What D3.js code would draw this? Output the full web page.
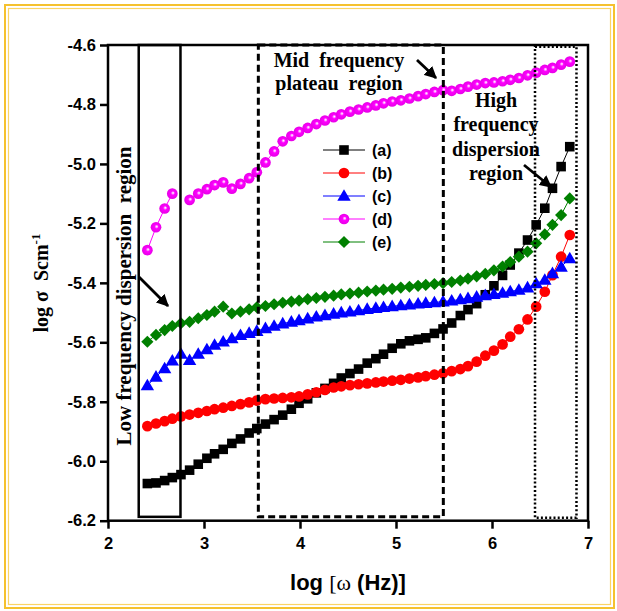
<!DOCTYPE html>
<html>
<head>
<meta charset="utf-8">
<script src="https://cdn.jsdelivr.net/npm/d3@7"></script>
<style>
  body { margin: 0; background: #fff; }
  svg { display: block; }
</style>
</head>
<body>
<script>
  "use strict";

  // log of angular frequency (x values shared by all series)
  var logFreq = [2.41, 2.50, 2.59, 2.67, 2.76, 2.85, 2.94, 3.03, 3.11, 3.20,
                 3.29, 3.38, 3.47, 3.55, 3.64, 3.73, 3.82, 3.91, 3.99, 4.08,
                 4.17, 4.26, 4.35, 4.43, 4.52, 4.61, 4.70, 4.79, 4.87, 4.96,
                 5.05, 5.14, 5.23, 5.31, 5.40, 5.49, 5.58, 5.67, 5.75, 5.84,
                 5.93, 6.02, 6.11, 6.19, 6.28, 6.37, 6.46, 6.55, 6.63, 6.72,
                 6.81];

  // log sigma for each sample
  var sigmaA = [-6.075, -6.073, -6.065, -6.055, -6.045, -6.03, -6.01, -5.99, -5.975, -5.96,
                -5.94, -5.925, -5.905, -5.89, -5.875, -5.86, -5.845, -5.825, -5.805, -5.79,
                -5.77, -5.755, -5.738, -5.72, -5.705, -5.69, -5.67, -5.655, -5.64, -5.62,
                -5.605, -5.595, -5.59, -5.585, -5.57, -5.555, -5.535, -5.51, -5.49, -5.47,
                -5.44, -5.41, -5.375, -5.34, -5.30, -5.256, -5.205, -5.149, -5.082, -5.009,
                -4.942];
  var sigmaB = [-5.882, -5.873, -5.865, -5.857, -5.849, -5.843, -5.837, -5.831, -5.825, -5.82,
                -5.814, -5.808, -5.802, -5.796, -5.791, -5.789, -5.787, -5.785, -5.782, -5.775,
                -5.768, -5.76, -5.752, -5.748, -5.744, -5.741, -5.738, -5.735, -5.732, -5.729,
                -5.726, -5.722, -5.718, -5.714, -5.709, -5.704, -5.697, -5.69, -5.68, -5.665,
                -5.645, -5.628, -5.607, -5.581, -5.556, -5.523, -5.48, -5.43, -5.374, -5.312,
                -5.239];
  var sigmaC = [-5.745, -5.716, -5.688, -5.662, -5.639, -5.66, -5.639, -5.624, -5.609, -5.598,
                -5.587, -5.576, -5.569, -5.562, -5.553, -5.545, -5.537, -5.531, -5.526, -5.52,
                -5.514, -5.509, -5.504, -5.5, -5.497, -5.493, -5.488, -5.485, -5.482, -5.479,
                -5.476, -5.473, -5.47, -5.468, -5.466, -5.463, -5.46, -5.456, -5.452, -5.447,
                -5.442, -5.438, -5.434, -5.429, -5.424, -5.416, -5.402, -5.39, -5.368, -5.346,
                -5.318];
  var sigmaD = [-5.29, -5.213, -5.15, -5.10, null, -5.121, -5.10, -5.085, -5.071, -5.062,
                -5.083, -5.067, -5.048, -5.028, -4.995, -4.958, -4.924, -4.906, -4.892, -4.879,
                -4.866, -4.854, -4.843, -4.833, -4.824, -4.817, -4.81, -4.803, -4.796, -4.79,
                -4.786, -4.78, -4.772, -4.765, -4.758, -4.752, -4.754, -4.748, -4.74, -4.733,
                -4.728, -4.726, -4.722, -4.717, -4.711, -4.702, -4.693, -4.684, -4.677, -4.666,
                -4.656];
  var sigmaE = [-5.598, -5.575, -5.559, -5.545, -5.536, -5.531, -5.519, -5.508, -5.497, -5.48,
                -5.503, -5.497, -5.489, -5.482, -5.478, -5.472, -5.467, -5.463, -5.46, -5.455,
                -5.451, -5.447, -5.443, -5.439, -5.436, -5.433, -5.429, -5.426, -5.423, -5.42,
                -5.416, -5.413, -5.41, -5.407, -5.404, -5.401, -5.397, -5.392, -5.386, -5.378,
                -5.37, -5.358, -5.345, -5.33, -5.312, -5.295, -5.267, -5.237, -5.205, -5.172,
                -5.116];

  var seriesNames = ["(a)", "(b)", "(c)", "(d)", "(e)"];
  var xTicks = [2, 3, 4, 5, 6, 7];
  var yTicks = [-6.2, -6.0, -5.8, -5.6, -5.4, -5.2, -5.0, -4.8, -4.6];

  var W = 617, H = 611;
  var mLeft = 108, mTop = 45, plotW = 480, plotH = 475.7;

  var svg = d3.select("body").append("svg")
      .attr("width", W)
      .attr("height", H);

  var defs = svg.append("defs");
  var grad = defs.append("radialGradient")
      .attr("id", "ball")
      .attr("cx", "0.5").attr("cy", "0.5").attr("r", "0.5")
      .attr("fx", "0.58").attr("fy", "0.42");
  grad.append("stop").attr("offset", "0").attr("stop-color", "#ffffff");
  grad.append("stop").attr("offset", "0.15").attr("stop-color", "#ffb0ff");
  grad.append("stop").attr("offset", "0.38").attr("stop-color", "#ff00ff");
  grad.append("stop").attr("offset", "1").attr("stop-color", "#e600e6");

  defs.append("marker")
      .attr("id", "arrow")
      .attr("viewBox", "0 0 10 10")
      .attr("refX", 9).attr("refY", 5)
      .attr("markerWidth", 4.4).attr("markerHeight", 4.4)
      .attr("orient", "auto")
    .append("path")
      .attr("d", "M0,0 L10,5 L0,10 z")
      .attr("fill", "#000");

  // outer golden frame
  svg.append("rect")
      .attr("x", 5).attr("y", 5).attr("width", 609).attr("height", 603)
      .attr("fill", "none").attr("stroke", "#f5c12e").attr("stroke-width", 2);
  svg.append("rect")
      .attr("x", 8.5).attr("y", 8.5).attr("width", 602).attr("height", 596)
      .attr("fill", "none").attr("stroke", "#fad466").attr("stroke-width", 1.2);

  var x = d3.scaleLinear().domain([2, 7]).range([mLeft, mLeft + plotW]);
  var y = d3.scaleLinear().domain([-6.2, -4.6]).range([mTop + plotH, mTop]);

  // axes
  var xAxis = d3.axisBottom(x).tickValues(xTicks).tickFormat(d3.format("d"))
      .tickSize(8).tickPadding(9);
  var yAxis = d3.axisLeft(y).tickValues(yTicks).tickFormat(function(d) { return d.toFixed(1); })
      .tickSize(8).tickPadding(4);

  var gx = svg.append("g")
      .attr("transform", "translate(0," + (mTop + plotH) + ")")
      .call(xAxis);
  var gy = svg.append("g")
      .attr("transform", "translate(" + mLeft + ",0)")
      .call(yAxis);

  [gx, gy].forEach(function(g) {
    g.select(".domain").remove();
    g.selectAll(".tick line").attr("stroke", "#000").attr("stroke-width", 2.5);
    g.selectAll(".tick text")
      .attr("fill", "#000")
      .attr("font-family", null).attr("font-size", null)
      .style("font-family", "'Liberation Sans', Arial, sans-serif")
      .style("font-weight", "bold")
      .style("font-size", "16.5px");
  });

  // frame of plot
  svg.append("rect")
      .attr("x", mLeft).attr("y", mTop).attr("width", plotW).attr("height", plotH)
      .attr("fill", "none").attr("stroke", "#000").attr("stroke-width", 2.5);

  // series
  var series = [
    { name: seriesNames[0], vals: sigmaA, color: "#000000", shape: "square" },
    { name: seriesNames[1], vals: sigmaB, color: "#ff0000", shape: "circle" },
    { name: seriesNames[2], vals: sigmaC, color: "#0000ff", shape: "triangle" },
    { name: seriesNames[3], vals: sigmaD, color: "#ff00ff", shape: "ball" },
    { name: seriesNames[4], vals: sigmaE, color: "#008000", shape: "diamond" }
  ];

  function drawMarker(sel, s) {
    if (s.shape === "square") {
      sel.append("path").attr("d", d3.symbol(d3.symbolSquare, 92)()).attr("fill", s.color);
    } else if (s.shape === "circle") {
      sel.append("path").attr("d", d3.symbol(d3.symbolCircle, 90)()).attr("fill", s.color);
    } else if (s.shape === "triangle") {
      sel.append("path").attr("d", d3.symbol(d3.symbolTriangle, 78)())
        .attr("transform", "translate(0,1)").attr("fill", s.color);
    } else if (s.shape === "ball") {
      sel.append("path").attr("d", d3.symbol(d3.symbolCircle, 90)()).attr("fill", "url(#ball)");
    } else {
      sel.append("path").attr("d", d3.symbol(d3.symbolSquare, 74)())
        .attr("transform", "rotate(45)").attr("fill", s.color);
    }
  }

  var line = d3.line()
      .defined(function(d) { return d[1] !== null; })
      .x(function(d) { return x(d[0]); })
      .y(function(d) { return y(d[1]); });

  series.forEach(function(s) {
    var pts = logFreq.map(function(f, i) { return [f, s.vals[i]]; });
    var g = svg.append("g");
    g.append("path")
      .datum(pts)
      .attr("d", line)
      .attr("fill", "none")
      .attr("stroke", s.color)
      .attr("stroke-width", 1);
    g.selectAll("g.pt")
      .data(pts.filter(function(d) { return d[1] !== null; }))
      .enter().append("g")
        .attr("class", "pt")
        .attr("transform", function(d) { return "translate(" + x(d[0]) + "," + y(d[1]) + ")"; })
        .each(function() { drawMarker(d3.select(this), s); });
  });

  // legend
  var legend = svg.append("g").attr("transform", "translate(323,150)");
  series.forEach(function(s, i) {
    var row = legend.append("g").attr("transform", "translate(0," + (i * 23) + ")");
    row.append("line").attr("x1", 0).attr("x2", 42).attr("y1", 0).attr("y2", 0)
      .attr("stroke", s.color).attr("stroke-width", 1);
    var m = row.append("g").attr("transform", "translate(21,0)");
    drawMarker(m, s);
    row.append("text")
      .attr("x", 49).attr("y", 0).attr("dy", "0.35em")
      .style("font-family", "'Liberation Sans', Arial, sans-serif")
      .style("font-weight", "bold")
      .style("font-size", "16px")
      .text(s.name);
  });

  // region boxes
  var serif = "'Liberation Serif', 'Times New Roman', serif";

  svg.append("rect")
      .attr("x", x(2.32)).attr("y", y(-4.6))
      .attr("width", x(2.755) - x(2.32)).attr("height", y(-6.187) - y(-4.6))
      .attr("fill", "none").attr("stroke", "#000").attr("stroke-width", 2.5);

  svg.append("rect")
      .attr("x", x(3.566)).attr("y", y(-4.6))
      .attr("width", x(5.493) - x(3.566)).attr("height", y(-6.187) - y(-4.6))
      .attr("fill", "none").attr("stroke", "#000").attr("stroke-width", 3)
      .attr("stroke-dasharray", "7,4");

  svg.append("rect")
      .attr("x", x(6.448)).attr("y", y(-4.606))
      .attr("width", x(6.88) - x(6.448)).attr("height", y(-6.19) - y(-4.606))
      .attr("fill", "none").attr("stroke", "#000").attr("stroke-width", 2.5)
      .attr("stroke-dasharray", "2,2.2");

  // annotations
  svg.append("text")
      .attr("transform", "translate(131,296) rotate(-90)")
      .attr("text-anchor", "middle")
      .style("font-family", serif).style("font-weight", "bold").style("font-size", "21px")
      .style("white-space", "pre")
      .text("Low frequency dispersion  region");

  var mid = svg.append("text")
      .attr("text-anchor", "middle")
      .style("white-space", "pre")
      .style("font-family", serif).style("font-weight", "bold").style("font-size", "20px");
  mid.append("tspan").attr("x", 339).attr("y", 67).text("Mid  frequency");
  mid.append("tspan").attr("x", 339).attr("y", 90).text("plateau  region");

  var high = svg.append("text")
      .attr("text-anchor", "middle")
      .style("font-family", serif).style("font-weight", "bold").style("font-size", "20px");
  ["High", "frequency", "dispersion", "region"].forEach(function(t, i) {
    high.append("tspan").attr("x", 496).attr("y", 107 + i * 24.3).text(t);
  });

  [[139, 277, 168, 306], [417, 60, 436, 78], [524, 165, 551, 187]].forEach(function(a) {
    svg.append("line")
      .attr("x1", a[0]).attr("y1", a[1]).attr("x2", a[2]).attr("y2", a[3])
      .attr("stroke", "#000").attr("stroke-width", 2.8)
      .attr("marker-end", "url(#arrow)");
  });

  // axis titles
  var xt = svg.append("text")
      .attr("x", 348).attr("y", 590)
      .attr("text-anchor", "middle")
      .style("font-family", "'Liberation Sans', Arial, sans-serif")
      .style("font-weight", "bold").style("font-size", "22px");
  xt.append("tspan").text("log ");
  xt.append("tspan").style("font-family", serif).style("font-weight", "normal").text("[ω");
  xt.append("tspan").text(" (Hz)]");

  var yt = svg.append("text")
      .attr("transform", "translate(48,283) rotate(-90)")
      .attr("text-anchor", "middle")
      .style("white-space", "pre")
      .style("font-family", serif)
      .style("font-weight", "bold").style("font-size", "20px");
  yt.append("tspan").text("log σ  Scm");
  yt.append("tspan").attr("dy", "-0.6em").style("font-size", "13px").text("-1");
</script>
</body>
</html>
